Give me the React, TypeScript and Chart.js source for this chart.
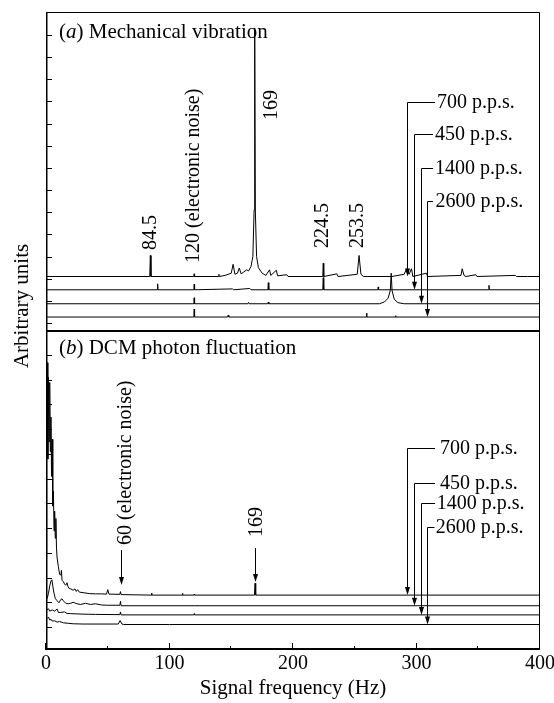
import { useEffect, useRef } from 'react';
import { Chart, registerables } from 'chart.js';

Chart.register(...registerables);

const FONT = '"Liberation Serif", "Times New Roman", serif';

// ---- axis ticks ----
const xTickValues = [0, 50, 100, 150, 200, 250, 300, 350, 400];
const yTicksA = [0.36, 1.36, 2.36, 3.36, 4.36, 5.36, 6.36, 7.36, 8.36, 9.36, 10.36, 11.36, 12.36, 13.36];
const yTicksB = [0.93, 1.93, 2.93, 3.93, 4.93, 5.93, 6.93, 7.93, 8.93, 9.93, 10.93, 11.93];

// ---- series ----
const seriesNames = ['700 p.p.s.', '450 p.p.s.', '1400 p.p.s.', '2600 p.p.s.'];
const baselinesA = [2.46, 1.86, 1.23, 0.63];
const baselinesB = [2.22, 1.79, 1.42, 1.03];

// (a) mechanical vibration spectra: [Hz, amplitude above trace baseline]
const mech700: [number, number][] = [
  [0, 0], [60, 0], [84.0, 0], [84.5, 0.95], [85.0, 0], [119.7, 0], [120, 0.12], [120.3, 0],
  [139.6, 0], [140, 0.1], [140.4, 0], [145, 0.05], [150, 0.15], [151.5, 0.55], [153, 0.1], [155, 0.15],
  [156.5, 0.38], [158, 0.12], [160, 0.2], [162.5, 0.3], [164, 0.25], [166, 0.45], [167.5, 0.9],
  [168.5, 3], [169, 11.22], [169.5, 3], [170.5, 0.9], [172, 0.4], [175, 0.15], [178, 0.05],
  [181, 0.3], [182, 0.05], [186.5, 0.28], [187.5, 0.03], [195, 0.08], [196, 0], [224.1, 0],
  [224.5, 0.6], [224.9, 0], [235.5, 0.12], [236.5, 0], [252, 0.1], [253.5, 0.95], [255, 0.1],
  [257, 0], [280, 0], [290, 0.1], [292, 0.35], [294, 0.1], [296, 0.35], [297, 0], [308, 0.15],
  [309, 0], [336, 0.05], [337, 0.35], [338.5, 0.05], [340, 0], [348, 0.08], [349, 0],
  [380, 0.05], [381, 0], [390, 0], [400, 0],
];
const mech450: [number, number][] = [
  [0, 0], [90.1, 0], [90.4, 0.27], [90.7, 0], [119.7, 0], [120, 0.25], [120.3, 0], [151, 0.04],
  [152, 0], [165, 0.06], [166, 0], [179.7, 0], [180, 0.32], [180.4, 0], [224.1, 0], [224.5, 0.55],
  [224.9, 0], [268.7, 0], [269, 0.13], [269.3, 0], [358.4, 0], [358.7, 0.2], [359.0, 0], [400, 0],
];
const mech1400: [number, number][] = [
  [0, 0], [119.7, 0], [120, 0.27], [120.3, 0], [163.5, 0], [164, 0.06], [164.5, 0], [179.6, 0],
  [180, 0.08], [180.4, 0], [270, 0], [274, 0.08], [277, 0.25], [278.8, 0.6], [279.5, 1.38],
  [280.2, 0.6], [282, 0.2], [285, 0.05], [290, 0], [400, 0],
];
const mech2600: [number, number][] = [
  [0, 0], [119.7, 0], [120, 0.36], [120.3, 0], [147.0, 0], [147.5, 0.08], [148.0, 0],
  [259.3, 0], [259.6, 0.18], [259.9, 0], [282.6, 0], [283, 0.06], [283.4, 0], [400, 0],
];

// (b) DCM photon fluctuation spectra
const dcm700: [number, number][] = [
  [0, 1.5], [0.5, 6.0], [1, 9.4], [1.5, 5.5], [2, 8.8], [2.5, 6.2], [3, 8.6], [3.5, 5.8], [4, 7.2],
  [4.5, 4.8], [5, 6.3], [5.5, 3.6], [6, 4.2], [6.5, 2.6], [7, 3.4], [7.5, 2.3], [8, 3.1], [8.5, 1.9],
  [9, 1.5], [10, 1.15], [11, 0.85], [12, 0.8], [12.5, 1.0], [13, 0.6], [14, 0.55], [15, 0.45],
  [16, 0.4], [17, 0.5], [17.8, 0.35], [18.5, 0.28], [20, 0.25], [22, 0.2], [23.5, 0.25], [24.5, 0.15],
  [25.6, 0.22], [27, 0.12], [30, 0.1], [35, 0.06], [40, 0.05], [45, 0.05], [49, 0.04], [50, 0.22],
  [51, 0.04], [59.8, 0.03], [60.3, 0.14], [60.8, 0.02], [85.2, 0], [85.5, 0.08], [85.8, 0], [110.2, 0],
  [110.5, 0.07], [110.8, 0], [119.7, 0], [120, 0.04], [120.3, 0], [168.8, 0], [169.3, 0.48], [169.8, 0],
  [400, 0],
];
const dcm450: [number, number][] = [
  [0, 0.5], [1, 0.3], [2, 0.5], [3, 0.8], [4, 1.0], [4.8, 1.05], [5.5, 0.8], [6.5, 0.5], [7.5, 0.3],
  [9, 0.2], [10.5, 0.12], [12, 0.25], [13, 0.28], [14, 0.2], [16, 0.1], [18, 0.08], [20, 0.1],
  [22, 0.14], [25, 0.08], [28, 0.05], [32, 0.1], [36, 0.05], [40, 0.08], [45, 0.03], [50, 0.02],
  [59.8, 0.02], [60.3, 0.18], [60.8, 0], [120, 0], [400, 0],
];
const dcm1400: [number, number][] = [
  [0, 0.35], [1, 0.2], [2, 0.25], [3, 0.15], [5, 0.2], [7, 0.15], [9, 0.24], [10, 0.1], [12, 0.1],
  [15, 0.12], [17, 0.06], [20, 0.05], [25, 0.04], [30, 0.03], [40, 0.02], [59.8, 0.01], [60.3, 0.12],
  [60.8, 0], [119.7, 0], [120, 0.05], [120.3, 0], [400, 0],
];
const dcm2600: [number, number][] = [
  [0, 0.3], [1, 0.25], [2, 0.3], [3, 0.18], [4, 0.22], [5, 0.14], [7, 0.15], [9, 0.1], [11, 0.12],
  [14, 0.07], [18, 0.05], [22, 0.03], [30, 0.02], [58.5, 0.02], [60, 0.16], [61.5, 0.02], [63, 0],
  [100, 0], [400, 0],
];

const panelASeries = [mech700, mech450, mech1400, mech2600];
const panelBSeries = [dcm700, dcm450, dcm1400, dcm2600];

// ---- annotations (data coordinates) ----
const peakLabelsA = [
  { text: '84.5', x: 84.8, y: 3.66 },
  { text: '120 (electronic noise)', x: 119.8, y: 3.07 },
  { text: '169', x: 183.0, y: 9.53 },
  { text: '224.5', x: 224.3, y: 3.75 },
  { text: '253.5', x: 252.2, y: 3.75 },
];
const peakLabelsB = [
  { text: '60 (electronic noise)', x: 64.8, y: 4.25, ax: 60.5, a0: 4.04, a1: 2.63 },
  { text: '169', x: 170.6, y: 4.57, ax: 169.5, a0: 4.12, a1: 2.75 },
];
const calloutsA = [
  { xv: 292.3, xe: 315.0, y: 10.34, tx: 316.5 },
  { xv: 298.0, xe: 313.4, y: 8.89, tx: 315.0 },
  { xv: 303.4, xe: 313.4, y: 7.36, tx: 315.0 },
  { xv: 308.7, xe: 313.4, y: 5.87, tx: 315.4 },
];
const calloutsB = [
  { xv: 292.0, xe: 315.0, y: 8.18, tx: 319.0 },
  { xv: 298.0, xe: 315.0, y: 6.77, tx: 319.0 },
  { xv: 303.6, xe: 315.0, y: 5.93, tx: 316.4 },
  { xv: 308.5, xe: 314.6, y: 4.99, tx: 315.6 },
];

function arrowDown(ctx: CanvasRenderingContext2D, x: number, y0: number, y1: number) {
  ctx.beginPath();
  ctx.moveTo(x, y0);
  ctx.lineTo(x, y1 - 6);
  ctx.stroke();
  ctx.beginPath();
  ctx.moveTo(x - 2.5, y1 - 8);
  ctx.lineTo(x + 2.5, y1 - 8);
  ctx.lineTo(x, y1);
  ctx.closePath();
  ctx.fill();
}

function vtext(ctx: CanvasRenderingContext2D, text: string, x: number, y: number) {
  ctx.save();
  ctx.translate(x, y);
  ctx.rotate(-Math.PI / 2);
  ctx.textAlign = 'left';
  ctx.textBaseline = 'middle';
  ctx.fillText(text, 0, 0);
  ctx.restore();
}

function panelTitle(ctx: CanvasRenderingContext2D, letter: string, rest: string, x: number, y: number) {
  ctx.textAlign = 'left';
  ctx.textBaseline = 'alphabetic';
  ctx.font = `21px ${FONT}`;
  let cx = x;
  ctx.fillText('(', cx, y);
  cx += ctx.measureText('(').width;
  ctx.font = `italic 21px ${FONT}`;
  ctx.fillText(letter, cx, y);
  cx += ctx.measureText(letter).width;
  ctx.font = `21px ${FONT}`;
  ctx.fillText(rest, cx, y);
}

const decorPlugin = {
  id: 'decor',
  afterDatasetsDraw(chart: any) {
    const ctx: CanvasRenderingContext2D = chart.ctx;
    const { left, right, top, bottom } = chart.chartArea;
    const xs = chart.scales.x;
    const ya = chart.scales.ya;
    const yb = chart.scales.yb;
    ctx.save();
    ctx.strokeStyle = '#000';
    ctx.fillStyle = '#000';

    // frame
    ctx.lineWidth = 1;
    ctx.beginPath();
    ctx.moveTo(left, top + 0.5);
    ctx.lineTo(right - 0.5, top + 0.5);
    ctx.lineTo(right - 0.5, bottom);
    ctx.stroke();
    ctx.lineWidth = 1.5;
    ctx.beginPath();
    ctx.moveTo(left + 0.75, top);
    ctx.lineTo(left + 0.75, bottom);
    ctx.stroke();
    ctx.lineWidth = 2;
    ctx.beginPath();
    ctx.moveTo(left, bottom - 1);
    ctx.lineTo(right, bottom - 1);
    ctx.moveTo(left, ya.bottom);
    ctx.lineTo(right, ya.bottom);
    ctx.stroke();

    // y ticks (inward)
    ctx.lineWidth = 1;
    ctx.beginPath();
    for (const v of yTicksA) {
      const p = Math.round(ya.getPixelForValue(v)) + 0.5;
      ctx.moveTo(left, p);
      ctx.lineTo(left + 6, p);
    }
    for (const v of yTicksB) {
      const p = Math.round(yb.getPixelForValue(v)) + 0.5;
      ctx.moveTo(left, p);
      ctx.lineTo(left + 6, p);
    }
    // x ticks (inward)
    for (const v of xTickValues) {
      const p = Math.round(xs.getPixelForValue(v)) - 0.5;
      const len = v % 100 === 0 ? 7 : 4;
      ctx.moveTo(p, bottom);
      ctx.lineTo(p, bottom - len);
    }
    ctx.stroke();

    // y title
    ctx.font = `21px ${FONT}`;
    ctx.save();
    ctx.translate(left - 24, ya.getPixelForValue(1.13));
    ctx.rotate(-Math.PI / 2);
    ctx.textAlign = 'center';
    ctx.textBaseline = 'middle';
    ctx.fillText('Arbitrary units', 0, 0);
    ctx.restore();

    // panel titles
    panelTitle(ctx, 'a', ') Mechanical vibration', xs.getPixelForValue(10.5), ya.getPixelForValue(13.24));
    panelTitle(ctx, 'b', ') DCM photon fluctuation', xs.getPixelForValue(10.5), yb.getPixelForValue(11.97));

    // peak labels
    ctx.font = `20px ${FONT}`;
    for (const l of peakLabelsA) {
      vtext(ctx, l.text, xs.getPixelForValue(l.x), ya.getPixelForValue(l.y));
    }
    ctx.lineWidth = 1;
    for (const l of peakLabelsB) {
      vtext(ctx, l.text, xs.getPixelForValue(l.x), yb.getPixelForValue(l.y));
      arrowDown(ctx, Math.round(xs.getPixelForValue(l.ax)) + 0.5, yb.getPixelForValue(l.a0), yb.getPixelForValue(l.a1));
    }

    // callouts
    const drawCallouts = (list: typeof calloutsA, scale: any, bases: number[]) => {
      list.forEach((c, i) => {
        const xv = Math.round(xs.getPixelForValue(c.xv)) + 0.5;
        const xe = xs.getPixelForValue(c.xe);
        const yl = Math.round(scale.getPixelForValue(c.y)) + 0.5;
        ctx.beginPath();
        ctx.moveTo(xe, yl);
        ctx.lineTo(xv, yl);
        ctx.stroke();
        arrowDown(ctx, xv, yl, scale.getPixelForValue(bases[i]));
        ctx.textAlign = 'left';
        ctx.textBaseline = 'middle';
        ctx.fillText(seriesNames[i], xs.getPixelForValue(c.tx), yl);
      });
    };
    drawCallouts(calloutsA, ya, baselinesA);
    drawCallouts(calloutsB, yb, baselinesB);

    ctx.restore();
  },
};

export default function App() {
  const ref = useRef<HTMLCanvasElement | null>(null);
  useEffect(() => {
    if (!ref.current) return;
    const datasets: any[] = [];
    panelASeries.forEach((s, i) => {
      datasets.push({
        label: `(a) ${seriesNames[i]}`,
        data: s.map(([x, y]) => ({ x, y: y + baselinesA[i] })),
        yAxisID: 'ya',
        borderColor: '#000',
        borderWidth: 1,
        pointRadius: 0,
        fill: false,
        tension: 0,
      });
    });
    panelBSeries.forEach((s, i) => {
      datasets.push({
        label: `(b) ${seriesNames[i]}`,
        data: s.map(([x, y]) => ({ x, y: y + baselinesB[i] })),
        yAxisID: 'yb',
        borderColor: '#000',
        borderWidth: 1,
        pointRadius: 0,
        fill: false,
        tension: 0,
      });
    });
    const chart = new Chart(ref.current, {
      type: 'line',
      data: { datasets },
      options: {
        animation: false,
        responsive: false,
        devicePixelRatio: 1,
        events: [],
        layout: { padding: { top: 12, right: 14, left: 0, bottom: 0 } },
        plugins: { legend: { display: false }, tooltip: { enabled: false } },
        scales: {
          x: {
            type: 'linear',
            min: 0,
            max: 400,
            grid: { display: false, drawTicks: false },
            border: { display: false },
            ticks: {
              stepSize: 100,
              color: '#000',
              font: { family: FONT, size: 20 },
              padding: 2,
              maxRotation: 0,
              autoSkip: false,
            },
            title: {
              display: true,
              text: 'Signal frequency (Hz)',
              color: '#000',
              font: { family: FONT, size: 21 },
              padding: { top: 0, bottom: 2 },
            },
            afterFit: (s: any) => {
              s.height = 53;
              s.paddingLeft = 0;
              s.paddingRight = 0;
            },
          } as any,
          yb: {
            type: 'linear',
            position: 'left',
            stack: 'panels',
            stackWeight: 1,
            min: 0,
            max: 12.9,
            ticks: { display: false },
            grid: { display: false, drawTicks: false },
            border: { display: false },
            afterFit: (s: any) => {
              s.width = 46;
            },
          } as any,
          ya: {
            type: 'linear',
            position: 'left',
            stack: 'panels',
            stackWeight: 1,
            min: 0,
            max: 14.4,
            ticks: { display: false },
            grid: { display: false, drawTicks: false },
            border: { display: false },
            afterFit: (s: any) => {
              s.width = 46;
            },
          } as any,
        },
      },
      plugins: [decorPlugin],
    });
    return () => chart.destroy();
  }, []);
  return (
    <div style={{ position: 'absolute', left: 0, top: 0, width: 554, height: 703, background: '#fff' }}>
      <canvas ref={ref} width={554} height={703} style={{ width: 554, height: 703, display: 'block' }} />
    </div>
  );
}
